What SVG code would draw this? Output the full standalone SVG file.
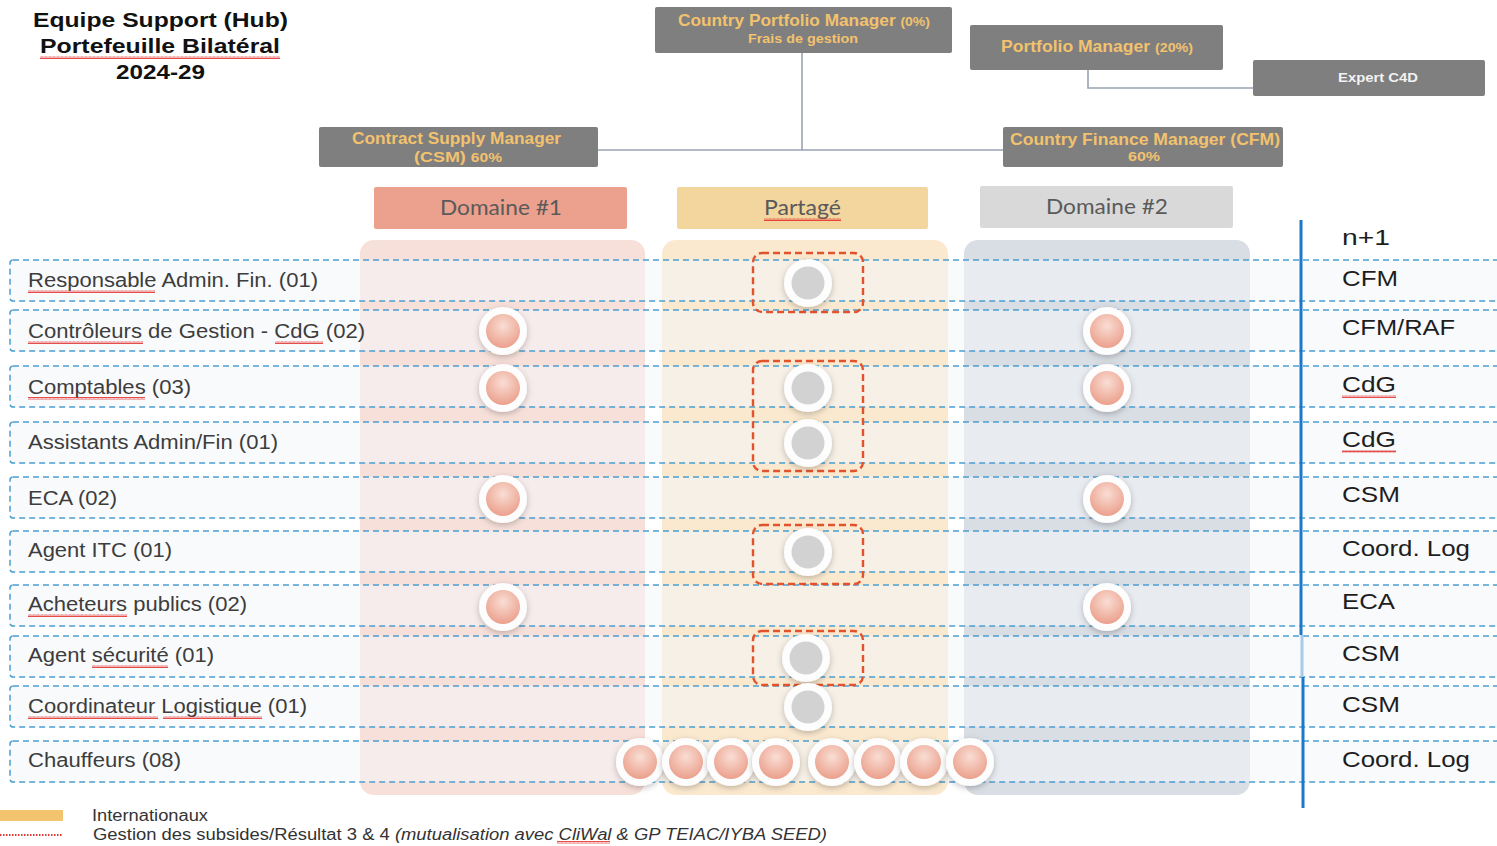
<svg xmlns="http://www.w3.org/2000/svg" width="1497" height="846" viewBox="0 0 1497 846">
  <defs>
    <style>
      .title{font-family:"Liberation Sans",Arial,sans-serif;font-weight:bold;font-size:21px;fill:#111}
      .box{fill:#7f7f7f}
      .btxt{font-family:"Liberation Sans",Arial,sans-serif;font-weight:bold;fill:#f2c26e}
      .conn{stroke:#9ca2b6;stroke-width:1.6;fill:none}
      .hdr{font-family:Lato,"Open Sans",sans-serif;font-size:21px;fill:#5a5a5a}
      .row{fill:#f4f6f9;fill-opacity:0.55;stroke:#4b9fd1;stroke-width:1.5;stroke-dasharray:6 4}
      .lbl{font-family:"Liberation Sans",Arial,sans-serif;font-size:20px;fill:#3d3d3d}
      .rlbl{font-family:"Liberation Sans",Arial,sans-serif;font-size:22px;fill:#1e1e1e}
      .grp{fill:none;stroke:#e2522c;stroke-width:2.4;stroke-dasharray:7 4}
      .ring{fill:#fdfdfd}
      .pk{fill:url(#pinkG)}
      .gy{fill:#d2d2d2}
      .sq{fill:url(#squig)}
      .leg{font-family:"Liberation Sans",Arial,sans-serif;font-size:16px;fill:#333}
    </style>
    <radialGradient id="pinkG" cx="0.5" cy="0.35" r="0.65">
      <stop offset="0" stop-color="#f9ddd4"/>
      <stop offset="1" stop-color="#eba08c"/>
    </radialGradient>
    <filter id="shadow" x="-40%" y="-40%" width="180%" height="180%">
      <feDropShadow dx="0" dy="2" stdDeviation="3" flood-color="#000" flood-opacity="0.25"/>
    </filter>
    <pattern id="squig" width="4" height="3" patternUnits="userSpaceOnUse">
      <path d="M0 2.5 L1 0.5 L2 2.5 L3 0.5 L4 2.5" stroke="#e02020" stroke-width="0.8" fill="none"/>
    </pattern>
    <g id="pinkDot">
      <circle r="24" class="ring" filter="url(#shadow)"/>
      <circle r="17" class="pk"/>
    </g>
    <g id="grayDot">
      <circle r="24" class="ring" filter="url(#shadow)"/>
      <circle r="16.5" class="gy"/>
    </g>
  </defs>

  <rect width="1497" height="846" fill="#ffffff"/>

  <!-- title -->
  <g id="title">
    <text class="title" x="33" y="27" textLength="255" lengthAdjust="spacingAndGlyphs">Equipe Support (Hub)</text>
    <text class="title" x="40" y="53" textLength="240" lengthAdjust="spacingAndGlyphs">Portefeuille Bilatéral</text>
    <text class="title" x="116" y="79" textLength="89" lengthAdjust="spacingAndGlyphs">2024-29</text>
    <rect class="sq" x="40" y="56" width="240" height="3"/>
  </g>

  <!-- org chart connectors -->
  <g id="connectors">
    <path class="conn" d="M802 53 V150 M598 150 H1003"/>
    <path class="conn" d="M1088 70 V88 H1253"/>
  </g>

  <!-- org chart boxes -->
  <g id="cpm">
    <rect class="box" x="655" y="7" width="297" height="46" rx="2"/>
    <text class="btxt" x="678" y="26" font-size="16" textLength="252" lengthAdjust="spacingAndGlyphs">Country Portfolio Manager <tspan font-size="13">(0%)</tspan></text>
    <text class="btxt" x="748" y="43" font-size="13" textLength="110" lengthAdjust="spacingAndGlyphs">Frais de gestion</text>
  </g>
  <g id="pm">
    <rect class="box" x="970" y="25" width="253" height="45" rx="2"/>
    <text class="btxt" x="1001" y="52" font-size="16" textLength="192" lengthAdjust="spacingAndGlyphs">Portfolio Manager <tspan font-size="13">(20%)</tspan></text>
  </g>
  <g id="c4d">
    <rect class="box" x="1253" y="60" width="232" height="36" rx="2"/>
    <text class="btxt" x="1338" y="82" font-size="13" style="fill:#f2f2f2" textLength="80" lengthAdjust="spacingAndGlyphs">Expert C4D</text>
  </g>
  <g id="csm">
    <rect class="box" x="319" y="127" width="279" height="40" rx="2"/>
    <text class="btxt" x="352" y="144" font-size="16" textLength="209" lengthAdjust="spacingAndGlyphs">Contract Supply Manager</text>
    <text class="btxt" x="414" y="162" font-size="15" textLength="88" lengthAdjust="spacingAndGlyphs">(CSM) <tspan font-size="13">60%</tspan></text>
  </g>
  <g id="cfm">
    <rect class="box" x="1003" y="127" width="280" height="40" rx="2"/>
    <text class="btxt" x="1010" y="145" font-size="16" textLength="270" lengthAdjust="spacingAndGlyphs">Country Finance Manager (CFM)</text>
    <text class="btxt" x="1128" y="161" font-size="13" textLength="32" lengthAdjust="spacingAndGlyphs">60%</text>
  </g>

  <!-- column panels -->
  <g id="columns">
    <rect x="360" y="240" width="285" height="555" rx="14" fill="#f8e0da"/>
    <rect x="662" y="240" width="286" height="555" rx="14" fill="#fbe9cf"/>
    <rect x="964" y="240" width="286" height="555" rx="14" fill="#d9dde4"/>
  </g>

  <!-- column headers -->
  <g id="hdr-d1">
    <rect x="374" y="187" width="253" height="42" rx="2" fill="#eba18e"/>
    <text class="hdr" x="440" y="215" textLength="122" lengthAdjust="spacingAndGlyphs">Domaine #1</text>
  </g>
  <g id="hdr-shared">
    <rect x="677" y="187" width="251" height="42" rx="2" fill="#f3d59e"/>
    <text class="hdr" x="764" y="215" textLength="77" lengthAdjust="spacingAndGlyphs">Partagé</text>
    <rect class="sq" x="764" y="218" width="77" height="3"/>
  </g>
  <g id="hdr-d2">
    <rect x="980" y="186" width="253" height="42" rx="2" fill="#d9d9d9"/>
    <text class="hdr" x="1046" y="214" textLength="122" lengthAdjust="spacingAndGlyphs">Domaine #2</text>
  </g>

  <!-- role rows -->
  <g id="rows">
    <rect class="row" x="10" y="260" width="1500" height="41" rx="3"/>
    <rect class="row" x="10" y="310" width="1500" height="41" rx="3"/>
    <rect class="row" x="10" y="366" width="1500" height="41" rx="3"/>
    <rect class="row" x="10" y="422" width="1500" height="41" rx="3"/>
    <rect class="row" x="10" y="477" width="1500" height="41" rx="3"/>
    <rect class="row" x="10" y="531" width="1500" height="41" rx="3"/>
    <rect class="row" x="10" y="585" width="1500" height="41" rx="3"/>
    <rect class="row" x="10" y="636" width="1500" height="41" rx="3"/>
    <rect class="row" x="10" y="686" width="1500" height="41" rx="3"/>
    <rect class="row" x="10" y="741" width="1500" height="41" rx="3"/>
  </g>

  <!-- row labels -->
  <g id="labels">
    <text class="lbl" x="28" y="287" textLength="290" lengthAdjust="spacingAndGlyphs">Responsable Admin. Fin. (01)</text>
    <text class="lbl" x="28" y="338" textLength="337" lengthAdjust="spacingAndGlyphs">Contrôleurs de Gestion - CdG (02)</text>
    <text class="lbl" x="28" y="394" textLength="163" lengthAdjust="spacingAndGlyphs">Comptables (03)</text>
    <text class="lbl" x="28" y="449" textLength="250" lengthAdjust="spacingAndGlyphs">Assistants Admin/Fin (01)</text>
    <text class="lbl" x="28" y="505" textLength="89" lengthAdjust="spacingAndGlyphs">ECA (02)</text>
    <text class="lbl" x="28" y="557" textLength="144" lengthAdjust="spacingAndGlyphs">Agent ITC (01)</text>
    <text class="lbl" x="28" y="611" textLength="219" lengthAdjust="spacingAndGlyphs">Acheteurs publics (02)</text>
    <text class="lbl" x="28" y="662" textLength="186" lengthAdjust="spacingAndGlyphs">Agent sécurité (01)</text>
    <text class="lbl" x="28" y="713" textLength="279" lengthAdjust="spacingAndGlyphs">Coordinateur Logistique (01)</text>
    <text class="lbl" x="28" y="767" textLength="153" lengthAdjust="spacingAndGlyphs">Chauffeurs (08)</text>
    <rect class="sq" x="28" y="290" width="127" height="3"/>
    <rect class="sq" x="28" y="341" width="115" height="3"/>
    <rect class="sq" x="275" y="341" width="48" height="3"/>
    <rect class="sq" x="28" y="397" width="117" height="3"/>
    <rect class="sq" x="28" y="614" width="99" height="3"/>
    <rect class="sq" x="92" y="665" width="76" height="3"/>
    <rect class="sq" x="28" y="716" width="130" height="3"/>
    <rect class="sq" x="163" y="716" width="99" height="3"/>
  </g>

  <!-- n+1 column -->
  <g id="n1">
    <path d="M1301 220 V635" stroke="#1c79c9" stroke-width="3"/>
    <path d="M1302 635 V677" stroke="#a9cbe8" stroke-width="3"/>
    <path d="M1303 677 V808" stroke="#1c79c9" stroke-width="3"/>
    <text class="rlbl" x="1342" y="245" textLength="48" lengthAdjust="spacingAndGlyphs">n+1</text>
    <text class="rlbl" x="1342" y="286" textLength="56" lengthAdjust="spacingAndGlyphs">CFM</text>
    <text class="rlbl" x="1342" y="335" textLength="113" lengthAdjust="spacingAndGlyphs">CFM/RAF</text>
    <text class="rlbl" x="1342" y="392" textLength="54" lengthAdjust="spacingAndGlyphs">CdG</text>
    <text class="rlbl" x="1342" y="447" textLength="54" lengthAdjust="spacingAndGlyphs">CdG</text>
    <text class="rlbl" x="1342" y="502" textLength="58" lengthAdjust="spacingAndGlyphs">CSM</text>
    <text class="rlbl" x="1342" y="556" textLength="128" lengthAdjust="spacingAndGlyphs">Coord. Log</text>
    <text class="rlbl" x="1342" y="609" textLength="53" lengthAdjust="spacingAndGlyphs">ECA</text>
    <text class="rlbl" x="1342" y="661" textLength="58" lengthAdjust="spacingAndGlyphs">CSM</text>
    <text class="rlbl" x="1342" y="712" textLength="58" lengthAdjust="spacingAndGlyphs">CSM</text>
    <text class="rlbl" x="1342" y="767" textLength="128" lengthAdjust="spacingAndGlyphs">Coord. Log</text>
    <rect class="sq" x="1342" y="395" width="54" height="3"/>
    <rect class="sq" x="1342" y="450" width="54" height="3"/>
  </g>

  <!-- shared-role groupings -->
  <g id="groupings">
    <rect class="grp" x="753" y="253" width="110" height="59" rx="9"/>
    <rect class="grp" x="753" y="361" width="110" height="110" rx="9"/>
    <rect class="grp" x="753" y="525" width="110" height="59" rx="9"/>
    <rect class="grp" x="753" y="631" width="110" height="54" rx="9"/>
  </g>

  <!-- assignment markers -->
  <g id="markers">
    <use href="#pinkDot" x="503" y="331"/>
    <use href="#pinkDot" x="503" y="388"/>
    <use href="#pinkDot" x="503" y="499"/>
    <use href="#pinkDot" x="503" y="607"/>
    <use href="#pinkDot" x="1107" y="331"/>
    <use href="#pinkDot" x="1107" y="388"/>
    <use href="#pinkDot" x="1107" y="499"/>
    <use href="#pinkDot" x="1107" y="607"/>
    <use href="#grayDot" x="808" y="283"/>
    <use href="#grayDot" x="808" y="388"/>
    <use href="#grayDot" x="808" y="443"/>
    <use href="#grayDot" x="808" y="552"/>
    <use href="#grayDot" x="806" y="658"/>
    <use href="#grayDot" x="808" y="707"/>
    <use href="#pinkDot" x="640" y="762"/>
    <use href="#pinkDot" x="686" y="762"/>
    <use href="#pinkDot" x="731" y="762"/>
    <use href="#pinkDot" x="776" y="762"/>
    <use href="#pinkDot" x="832" y="762"/>
    <use href="#pinkDot" x="878" y="762"/>
    <use href="#pinkDot" x="924" y="762"/>
    <use href="#pinkDot" x="970" y="762"/>
  </g>

  <!-- legend -->
  <g id="legend">
    <rect x="0" y="810" width="63" height="11" fill="#f2c46e"/>
    <path d="M0 835 H62" stroke="#e03a3a" stroke-width="2" stroke-dasharray="1.5 1.5"/>
    <text class="leg" x="92" y="821" textLength="116" lengthAdjust="spacingAndGlyphs">Internationaux</text>
    <text class="leg" x="93" y="840" textLength="734" lengthAdjust="spacingAndGlyphs">Gestion des subsides/Résultat 3 &amp; 4 <tspan font-style="italic">(mutualisation avec CliWal &amp; GP TEIAC/IYBA SEED)</tspan></text>
    <rect class="sq" x="557" y="841" width="53" height="3"/>
  </g>
</svg>
